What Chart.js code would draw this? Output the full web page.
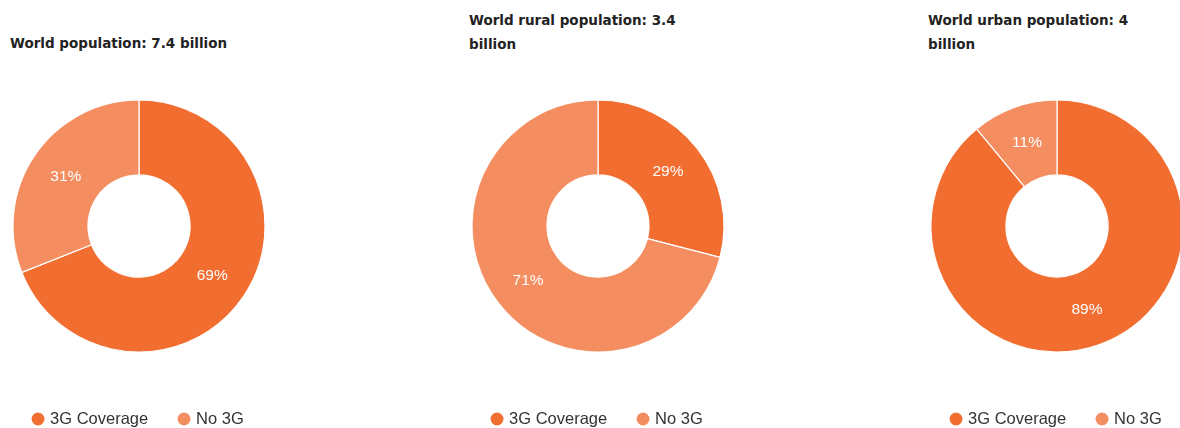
<!DOCTYPE html>
<html>
<head>
<meta charset="utf-8">
<script src="https://cdn.jsdelivr.net/npm/chart.js@4/dist/chart.umd.min.js"></script>
<style>
  html, body { margin: 0; padding: 0; background: #fff; overflow: hidden; width: 1180px; height: 428px; }
  .panel { position: absolute; top: 0; width: 459px; height: 450px; }
  .panel canvas { position: absolute; left: 0; top: 0; }
  .title {
    position: absolute; left: 10px; width: 300px;
    font: bold 13.5px 'DejaVu Sans', Verdana, sans-serif;
    line-height: 24px; color: #222; white-space: nowrap;
  }
</style>
</head>
<body>
<div class="panel" style="left:0px"><div class="title" id="title0"></div><canvas id="chart0" width="459" height="450"></canvas></div>
<div class="panel" style="left:459px"><div class="title" id="title1"></div><canvas id="chart1" width="459" height="450"></canvas></div>
<div class="panel" style="left:918px"><div class="title" id="title2"></div><canvas id="chart2" width="459" height="450"></canvas></div>
<script>
const categories = ["3G Coverage", "No 3G"];
const titles = [
  ["World population: 7.4 billion"],
  ["World rural population: 3.4", "billion"],
  ["World urban population: 4", "billion"]
];
const worldValues = [69, 31];
const ruralValues = [29, 71];
const urbanValues = [89, 11];
const seriesValues = [worldValues, ruralValues, urbanValues];
const colors = ["#F26D30", "#F48D5F"];

const fontFamily = "'Liberation Sans', Arial, sans-serif";

// white percent labels in the middle of each slice
const sliceLabels = {
  id: "sliceLabels",
  afterDatasetsDraw(chart) {
    const ctx = chart.ctx;
    const meta = chart.getDatasetMeta(0);
    const data = chart.data.datasets[0].data;
    ctx.save();
    ctx.fillStyle = "#fff";
    ctx.font = "15.5px " + fontFamily;
    ctx.textAlign = "center";
    ctx.textBaseline = "middle";
    meta.data.forEach((arc, i) => {
      const pos = arc.tooltipPosition();
      ctx.fillText(data[i] + "%", pos.x, pos.y);
    });
    ctx.restore();
  }
};

seriesValues.forEach((values, idx) => {
  const lines = titles[idx];
  const titleEl = document.getElementById("title" + idx);
  titleEl.innerHTML = lines.join("<br>");
  // titles sit bottom-aligned: one-line title takes the second line slot
  titleEl.style.top = (lines.length > 1 ? 8 : 31) + "px";

  new Chart(document.getElementById("chart" + idx), {
    type: "doughnut",
    data: {
      labels: categories,
      datasets: [{
        data: values,
        backgroundColor: colors,
        borderColor: "#fff",
        borderWidth: 1.2,
        hoverOffset: 0
      }]
    },
    options: {
      responsive: false,
      animation: false,
      devicePixelRatio: 1,
      radius: 126,
      cutout: "40.5%",
      layout: { padding: { left: 0, right: 181, top: 73.25, bottom: 12.75 } },
      plugins: {
        title: { display: false },
        legend: {
          position: "bottom",
          align: "center",
          labels: {
            usePointStyle: true,
            pointStyle: "circle",
            boxWidth: 7.6,
            boxHeight: 10,
            padding: 32,
            color: "#333",
            font: { family: fontFamily, size: 16.5 }
          }
        },
        tooltip: { enabled: false }
      }
    },
    plugins: [sliceLabels]
  });
});
</script>
</body>
</html>
